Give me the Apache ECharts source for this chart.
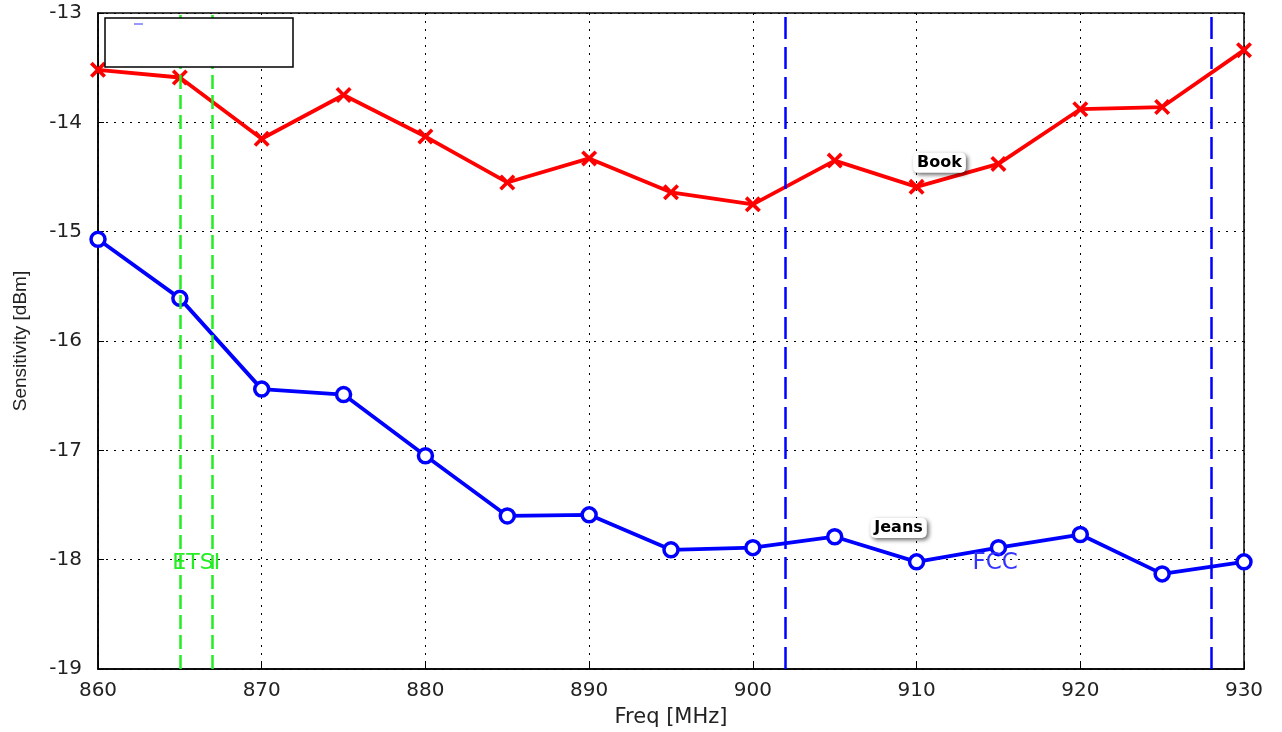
<!DOCTYPE html>
<html><head><meta charset="utf-8">
<script src="https://cdn.jsdelivr.net/npm/echarts@6/dist/echarts.min.js"></script>
<style>html,body{margin:0;padding:0;background:#fff}#c{width:1282px;height:732px}</style>
</head><body><div id="c"></div>
<script>
var freqs = [860,865,870,875,880,885,890,895,900,905,910,915,920,925,930];
var book  = [-13.52,-13.59,-14.15,-13.75,-14.13,-14.55,-14.33,-14.64,-14.75,-14.35,-14.59,-14.38,-13.88,-13.86,-13.34];
var jeans = [-15.07,-15.61,-16.44,-16.49,-17.05,-17.60,-17.59,-17.91,-17.89,-17.79,-18.02,-17.89,-17.77,-18.13,-18.02];
var etsiLines = [865, 867];
var fccLines = [902, 928];

var chart = echarts.init(document.getElementById('c'));
var FONT = 'DejaVu Sans';
var cross = 'path://M0,1.6 L1.6,0 L5,3.4 L8.4,0 L10,1.6 L6.6,5 L10,8.4 L8.4,10 L5,6.6 L1.6,10 L0,8.4 L3.4,5 Z';
function pairs(xs, ys){ return xs.map(function(x,i){return [x, ys[i]];}); }
var tagLabel = {show:true, color:'#000', fontFamily:FONT, fontWeight:'bold', fontSize:16,
  backgroundColor:'#fff', padding:[2,4], borderRadius:5,
  shadowColor:'rgba(0,0,0,0.6)', shadowBlur:4, shadowOffsetX:2, shadowOffsetY:2};
chart.setOption({
  animation:false,
  backgroundColor:'#fff',
  grid:{left:98, right:38, top:13, bottom:63, show:true, borderColor:'#000', borderWidth:1.5,
        backgroundColor:'#fff', containLabel:false, outerBoundsMode:'none'},
  xAxis:{type:'value', min:860, max:930, interval:10,
    name:'Freq [MHz]', nameLocation:'middle', nameGap:38,
    nameTextStyle:{fontFamily:FONT, fontSize:21, color:'#222'},
    axisLine:{show:true, lineStyle:{color:'#000', width:1.5}},
    axisTick:{show:true, inside:true, length:6, lineStyle:{color:'#000'}},
    axisLabel:{fontFamily:FONT, fontSize:20, color:'#222', margin:12},
    splitLine:{show:true, lineStyle:{color:'#000', type:[2,6], width:1}}},
  yAxis:{type:'value', min:-19, max:-13, interval:1,
    name:'Sensitivity [dBm]', nameLocation:'middle', nameGap:68, nameRotate:90,
    nameTextStyle:{fontFamily:'Liberation Sans', fontSize:19, color:'#222'},
    axisLine:{show:true, lineStyle:{color:'#000', width:1.5}},
    axisTick:{show:true, inside:true, length:6, lineStyle:{color:'#000'}},
    axisLabel:{fontFamily:FONT, fontSize:20, color:'#222', margin:16},
    splitLine:{show:true, lineStyle:{color:'#000', type:[2,6], width:1}}},
  series:[
    {type:'line', name:'Book', data:pairs(freqs, book), symbol:cross, symbolSize:16,
     lineStyle:{color:'#ff0000', width:3.8}, itemStyle:{color:'#ff0000'},
     markPoint:{symbol:'circle', symbolSize:0, silent:true,
       data:[{coord:[911.4,-14.37], value:'Book'}],
       label:tagLabel}},
    {type:'line', name:'Jeans', data:pairs(freqs, jeans), symbol:'circle', symbolSize:14,
     lineStyle:{color:'#0000ff', width:3.8}, itemStyle:{color:'#fff', borderColor:'#0000ff', borderWidth:3.5},
     markPoint:{symbol:'circle', symbolSize:0, silent:true,
       data:[{coord:[908.9,-17.71], value:'Jeans'}],
       label:tagLabel}},
    {type:'line', data:[], markLine:{silent:true, symbol:'none', label:{show:false},
       lineStyle:{color:'#22ee22', width:2.5, type:[14,6]},
       data:etsiLines.map(function(v){return {xAxis:v};})},
     markPoint:{symbol:'circle', symbolSize:0, silent:true,
       data:[{coord:[866,-18.03], value:'ETSI'}],
       label:{show:true, color:'#22ee22', fontFamily:FONT, fontSize:22}}},
    {type:'line', data:[], markLine:{silent:true, symbol:'none', label:{show:false},
       lineStyle:{color:'#0000ff', width:2.5, type:[22,8]},
       data:fccLines.map(function(v){return {xAxis:v};})},
     markPoint:{symbol:'circle', symbolSize:0, silent:true,
       data:[{coord:[914.8,-18.03], value:'FCC'}],
       label:{show:true, color:'#3333ff', fontFamily:FONT, fontSize:23}}}
  ],
  graphic:[
    {type:'rect', shape:{x:105, y:18, width:188, height:49}, style:{fill:'#fff', stroke:'#000', lineWidth:1.5}, z:100},
    {type:'line', shape:{x1:134, y1:24, x2:143, y2:24}, style:{stroke:'#3333ff', lineWidth:1}, z:101}
  ]
});
</script></body></html>
